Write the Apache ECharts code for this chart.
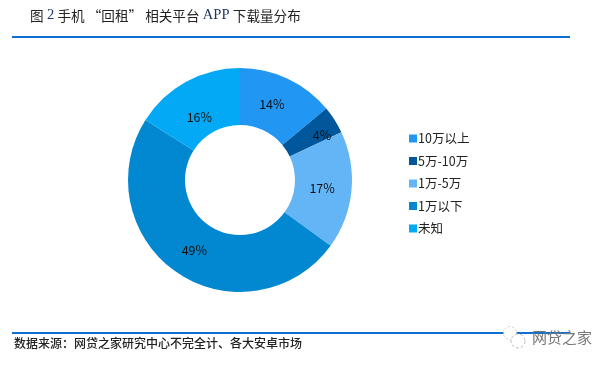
<!DOCTYPE html>
<html><head><meta charset="utf-8">
<style>html,body{margin:0;padding:0;background:#fff}#c{width:611px;height:366px}</style>
<script src="https://cdn.jsdelivr.net/npm/echarts@6/dist/echarts.min.js"></script>
</head><body><div id="c"></div>
<script>
const categories = ['10万以上','5万-10万','1万-5万','1万以下','未知'];
const shares = [14,4,17,49,16];
const colors = ['#2196F3','#01579B','#64B5F6','#0288D1','#03A9F4'];
const labelNudge = [[-5,3],[9,2],[-4,0],[3,-1],[1,13]];
const CJK = '"Noto Sans CJK SC"';
const chart = echarts.init(document.getElementById('c'), null, {renderer:'canvas'});
chart.setOption({
  animation:false,
  backgroundColor:'#fff',
  color:colors,
  legend:{
    orient:'vertical', left:404, top:126.5, itemWidth:8, itemHeight:8, itemGap:8.5,
    icon:'rect', selectedMode:false,
    textStyle:{fontFamily:CJK,fontSize:12.5,color:'#222',padding:[0,0,0,-4],lineHeight:14},
    data:categories
  },
  series:[{
    type:'pie', center:[240,180], radius:[55,112], startAngle:90, clockwise:true,
    silent:true, avoidLabelOverlap:false,
    itemStyle:{borderWidth:0},
    label:{position:'inside',formatter:'{c}%',fontFamily:CJK,fontSize:12.5,color:'#111'},
    labelLine:{show:false},
    data:categories.map((n,i)=>({name:n,value:shares[i],label:{offset:labelNudge[i]}}))
  }],
  graphic:[
    {type:'text',left:30,top:8,style:{
      rich:{
        c:{fontFamily:CJK,fontSize:13.6,fill:'#222'},
        l:{fontFamily:'"Liberation Serif"',fontSize:14.5,fill:'#1f3864'}
      },
      text:'{c|图} {l|2} {c|手机 “回租” 相关平台} {l|APP} {c|下载量分布}'
    }},
    {type:'rect',shape:{x:12,y:36,width:558,height:2},style:{fill:'#0F6FD0'}},
    {type:'rect',shape:{x:12,y:332,width:558,height:2},style:{fill:'#0F6FD0'}},
    {type:'text',left:14,top:337,style:{text:'数据来源：网贷之家研究中心不完全计、各大安卓市场',
      fontFamily:CJK,fontSize:12,fontWeight:500,fill:'#222'}},
    {type:'circle',shape:{cx:510,cy:333,r:6.5},style:{fill:'#fff',stroke:'#ccc',lineWidth:1,lineDash:[2,2]}},
    {type:'circle',shape:{cx:518,cy:341,r:7},style:{fill:'#fff',stroke:'#bbb',lineWidth:1,lineDash:[3,2]}},
    {type:'text',left:532,top:330,style:{text:'网贷之家',fontFamily:CJK,fontSize:15,fill:'#777'}}
  ]
});
</script></body></html>
